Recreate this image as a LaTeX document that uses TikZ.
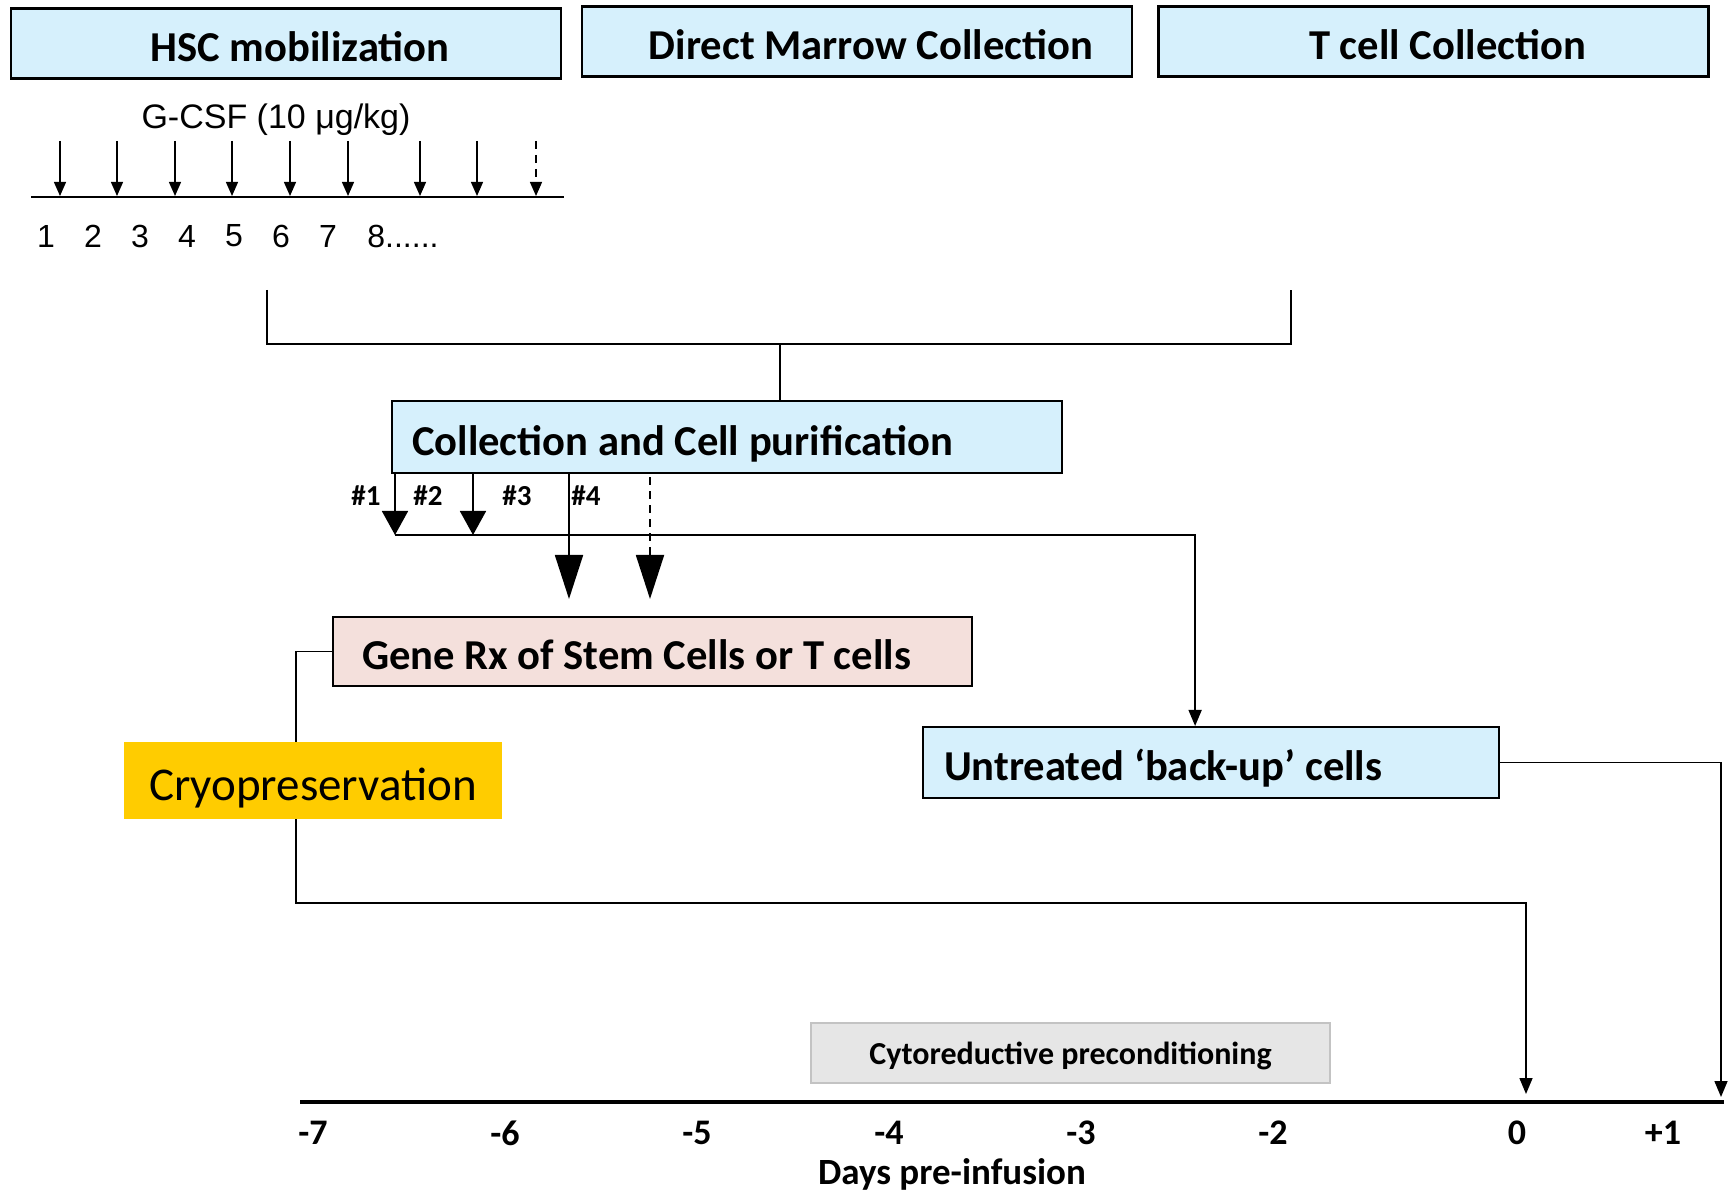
\documentclass[tikz,border=0pt]{standalone}
\usepackage{fontspec}
\setmainfont{Carlito}
\newfontfamily\arialfont{Liberation Sans}
\usepackage{xcolor}
\usetikzlibrary{arrows.meta, positioning, calc}
\definecolor{cellblue}{RGB}{214,240,252}
\definecolor{generose}{RGB}{244,224,220}
\definecolor{cryogold}{RGB}{255,204,0}
\definecolor{condgray}{RGB}{230,230,230}
\definecolor{condedge}{RGB}{195,195,195}
\newcommand{\boxfont}{\fontsize{21.3bp}{25bp}\selectfont\bfseries}
\tikzset{
    phase/.style={
        draw=black,
        line width=1.1bp,
        fill=cellblue,
        inner sep=0pt,
        minimum width=275bp,
        minimum height=35bp,
        text height=18bp,
        text depth=0pt,
        font=\boxfont,
    },
    leftbox/.style={
        draw=black,
        line width=1.1bp,
        anchor=north west,
        align=flush left,
        inner ysep=0pt,
        text height=18bp,
        text depth=0pt,
        font=\boxfont,
    },
    dose/.style={-{Triangle[width=6bp,length=7bp]}, line width=0.7bp},
    split/.style={-{Triangle[width=13bp,length=12bp]}, line width=0.9bp},
    bigsplit/.style={-{Triangle[width=14bp,length=22bp]}, line width=0.9bp},
    route/.style={line width=0.8bp},
    routearrow/.style={route, -{Triangle[width=6.5bp,length=8bp]}},
    daylabel/.style={font=\fontsize{18bp}{20bp}\selectfont\bfseries},
    passlabel/.style={font=\fontsize{14.5bp}{16bp}\selectfont\bfseries},
}

\begin{document}
\begin{tikzpicture}[x=0.5bp, y=-0.5bp]
    \useasboundingbox (0,0) rectangle (1733,1194);

    % collection phases
    \node[phase] (hsc) at (286,43.5) {\hspace*{14bp}HSC mobilization};
    \node[phase] (marrow) at (857,41.5) {\hspace*{14bp}Direct Marrow Collection};
    \node[phase] (tcell) at (1433.5,41.5) {\hspace*{14bp}T cell Collection};

    % G-CSF dosing
    \node[font=\arialfont\fontsize{17bp}{19bp}\selectfont] (gcsf) at (276,120) {G-CSF (10 μg/kg)};
    \coordinate (doseL) at (31,197);
    \coordinate (doseR) at (564,197);
    \draw[line width=1bp] (doseL) -- (doseR);
    \foreach \x in {60,117,175,232,290,348,420,477}{
        \coordinate (dose\x) at (\x,196);
        \draw[dose] (\x,141) -- (dose\x);
    }
    \coordinate (doseMore) at (536,196);
    \draw[dose, dash pattern=on 4bp off 3bp] (536,141) -- (doseMore);
    \foreach \n in {1,...,7}
        \node[font=\arialfont\fontsize{16bp}{18bp}\selectfont] (dnum\n) at ({46+47*(\n-1)},236) {\n};
    \node[font=\arialfont\fontsize{16bp}{18bp}\selectfont, anchor=west, inner xsep=0pt] (dnum8) at (367,236) {8......};

    % purification
    \node[leftbox, fill=cellblue, inner xsep=10bp, text width=315bp, minimum height=36bp]
        (coll) at (391,400) {Collection and Cell purification};
    \coordinate (brL) at (267,290);
    \coordinate (brR) at (1291,290);
    \coordinate (brM) at (780,344);
    \draw[route] (brL) |- (brM) -| (brR);
    \draw[route] (brM) -- (brM |- coll.north);

    \node[leftbox, fill=generose, inner xsep=14.5bp, text width=290.5bp, minimum height=34.5bp]
        (gene) at (332,616) {Gene Rx of Stem Cells or T cells};
    \node[leftbox, fill=cellblue, inner xsep=10.5bp, text width=267bp, minimum height=35.5bp]
        (untr) at (922,726) {Untreated ‘back-up’ cells};

    \coordinate (h1) at (395,535);
    \coordinate (h2) at (473,535);
    \coordinate (h4) at (569,599);
    \coordinate (h5) at (650,599);
    \draw[split] (h1 |- coll.south) -- (h1);
    \draw[split] (h2 |- coll.south) -- (h2);
    \draw[bigsplit] (h4 |- coll.south) -- (h4);
    \draw[bigsplit, dash pattern=on 4bp off 3bp] ($(h5 |- coll.south)+(0,3)$) -- (h5);
    \draw[routearrow] (h1) -| ($(untr.north)+(-16,0)$);
    \node[passlabel] (p1) at (366,496) {\#1};
    \node[passlabel] (p2) at (428,496) {\#2};
    \node[passlabel] (p3) at (517,496) {\#3};
    \node[passlabel] (p4) at (586,496) {\#4};

    % infusion timeline
    \coordinate (t0) at (300,1102);
    \coordinate (t1) at (1724,1102);
    \draw[line width=1.6bp] (t0) -- (t1);
    \coordinate (inf0) at (1526,1094);
    \coordinate (inf1) at (1721,1097);
    \coordinate (cryoTurn) at (296,903);
    \draw[routearrow] (gene.west) -| (cryoTurn) -| (inf0);
    \draw[routearrow] (untr.east) -| (inf1);

    \node[fill=cryogold, minimum width=189bp, minimum height=38.5bp, inner sep=0pt,
        text height=20bp, text depth=0pt,
        font=\fontsize{23.5bp}{27bp}\selectfont] (cryo) at (313,780.5) {Cryopreservation};
    \node[draw=condedge, line width=1bp, fill=condgray, minimum width=259.5bp, minimum height=30bp,
        inner sep=0pt, text depth=0pt, font=\fontsize{16bp}{18bp}\selectfont\bfseries] (cond) at (1070.5,1053)
        {Cytoreductive preconditioning};

    \foreach \d [count=\i from 0] in {-7,-6,-5,-4,-3,-2}
        \node[daylabel] (day\i) at ({313+192*\i},1133) {\d};
    \node[daylabel] (dayzero) at (1517,1133) {0};
    \node[daylabel] (dayplus) at (1663,1133) {+1};
    \node[daylabel, font=\fontsize{18.5bp}{21bp}\selectfont\bfseries] (days) at (952,1174) {Days pre-infusion};
\end{tikzpicture}
\end{document}
